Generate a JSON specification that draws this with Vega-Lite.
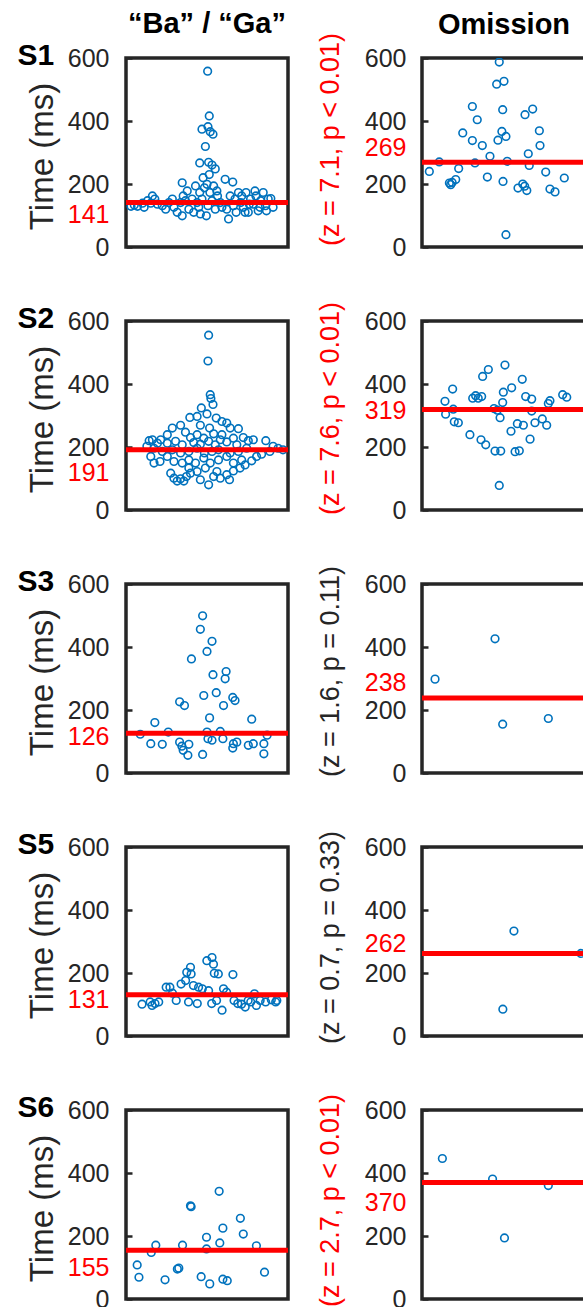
{
"$schema": "https://vega.github.io/schema/vega-lite/v6.json",
"usermeta": {"embedOptions": {"actions": false}},
"background": "white",
"padding": {"left": 15, "top": 8, "right": -3, "bottom": -5},
"config": {"view": {"stroke": null}, "font": "Liberation Sans", "axis": {"grid": false, "labelFont": "Liberation Sans", "titleFont": "Liberation Sans"}},
"datasets": {
"med": [
{"s":"S1","c":"B","m":141},{"s":"S1","c":"O","m":269},
{"s":"S2","c":"B","m":191},{"s":"S2","c":"O","m":319},
{"s":"S3","c":"B","m":126},{"s":"S3","c":"O","m":238},
{"s":"S5","c":"B","m":131},{"s":"S5","c":"O","m":262},
{"s":"S6","c":"B","m":155},{"s":"S6","c":"O","m":370}
],
"pts": [
{"s":"S1","c":"B","x":0.504,"t":558},{"s":"S1","c":"B","x":0.514,"t":416},{"s":"S1","c":"B","x":0.469,"t":374},{"s":"S1","c":"B","x":0.506,"t":382},{"s":"S1","c":"B","x":0.52,"t":366},{"s":"S1","c":"B","x":0.537,"t":358},{"s":"S1","c":"B","x":0.49,"t":319},{"s":"S1","c":"B","x":0.455,"t":267},{"s":"S1","c":"B","x":0.51,"t":269},{"s":"S1","c":"B","x":0.531,"t":260},{"s":"S1","c":"B","x":0.476,"t":220},{"s":"S1","c":"B","x":0.514,"t":230},{"s":"S1","c":"B","x":0.5,"t":199},{"s":"S1","c":"B","x":0.551,"t":248},
{"s":"S1","c":"B","x":0.031,"t":129},{"s":"S1","c":"B","x":0.051,"t":133},{"s":"S1","c":"B","x":0.071,"t":129},{"s":"S1","c":"B","x":0.102,"t":139},{"s":"S1","c":"B","x":0.112,"t":126},{"s":"S1","c":"B","x":0.133,"t":147},{"s":"S1","c":"B","x":0.153,"t":139},{"s":"S1","c":"B","x":0.163,"t":162},{"s":"S1","c":"B","x":0.178,"t":152},{"s":"S1","c":"B","x":0.194,"t":136},{"s":"S1","c":"B","x":0.224,"t":131},{"s":"S1","c":"B","x":0.245,"t":120},{"s":"S1","c":"B","x":0.265,"t":141},{"s":"S1","c":"B","x":0.286,"t":152},{"s":"S1","c":"B","x":0.296,"t":126},{"s":"S1","c":"B","x":0.316,"t":110},{"s":"S1","c":"B","x":0.337,"t":141},{"s":"S1","c":"B","x":0.347,"t":204},{"s":"S1","c":"B","x":0.353,"t":162},{"s":"S1","c":"B","x":0.347,"t":99},{"s":"S1","c":"B","x":0.367,"t":147},{"s":"S1","c":"B","x":0.378,"t":178},{"s":"S1","c":"B","x":0.388,"t":120},{"s":"S1","c":"B","x":0.408,"t":152},{"s":"S1","c":"B","x":0.418,"t":110},{"s":"S1","c":"B","x":0.429,"t":194},{"s":"S1","c":"B","x":0.439,"t":141},{"s":"S1","c":"B","x":0.449,"t":126},{"s":"S1","c":"B","x":0.455,"t":173},{"s":"S1","c":"B","x":0.459,"t":105},{"s":"S1","c":"B","x":0.469,"t":152},{"s":"S1","c":"B","x":0.484,"t":188},{"s":"S1","c":"B","x":0.496,"t":99},{"s":"S1","c":"B","x":0.506,"t":131},{"s":"S1","c":"B","x":0.518,"t":173},{"s":"S1","c":"B","x":0.531,"t":147},{"s":"S1","c":"B","x":0.541,"t":194},{"s":"S1","c":"B","x":0.551,"t":120},{"s":"S1","c":"B","x":0.561,"t":178},{"s":"S1","c":"B","x":0.565,"t":162},{"s":"S1","c":"B","x":0.582,"t":141},{"s":"S1","c":"B","x":0.592,"t":126},{"s":"S1","c":"B","x":0.612,"t":215},{"s":"S1","c":"B","x":0.622,"t":120},{"s":"S1","c":"B","x":0.633,"t":89},{"s":"S1","c":"B","x":0.643,"t":162},{"s":"S1","c":"B","x":0.659,"t":206},{"s":"S1","c":"B","x":0.663,"t":131},{"s":"S1","c":"B","x":0.673,"t":152},{"s":"S1","c":"B","x":0.68,"t":110},{"s":"S1","c":"B","x":0.694,"t":173},{"s":"S1","c":"B","x":0.708,"t":141},{"s":"S1","c":"B","x":0.714,"t":162},{"s":"S1","c":"B","x":0.724,"t":126},{"s":"S1","c":"B","x":0.735,"t":110},{"s":"S1","c":"B","x":0.741,"t":173},{"s":"S1","c":"B","x":0.755,"t":110},{"s":"S1","c":"B","x":0.761,"t":136},{"s":"S1","c":"B","x":0.769,"t":152},{"s":"S1","c":"B","x":0.786,"t":136},{"s":"S1","c":"B","x":0.796,"t":178},{"s":"S1","c":"B","x":0.802,"t":162},{"s":"S1","c":"B","x":0.816,"t":115},{"s":"S1","c":"B","x":0.827,"t":126},{"s":"S1","c":"B","x":0.831,"t":147},{"s":"S1","c":"B","x":0.847,"t":173},{"s":"S1","c":"B","x":0.861,"t":131},{"s":"S1","c":"B","x":0.867,"t":115},{"s":"S1","c":"B","x":0.878,"t":152},{"s":"S1","c":"B","x":0.894,"t":154},{"s":"S1","c":"B","x":0.908,"t":126},
{"s":"S1","c":"O","x":0.045,"t":240},{"s":"S1","c":"O","x":0.106,"t":270},{"s":"S1","c":"O","x":0.168,"t":203},{"s":"S1","c":"O","x":0.176,"t":198},{"s":"S1","c":"O","x":0.185,"t":205},{"s":"S1","c":"O","x":0.207,"t":214},{"s":"S1","c":"O","x":0.225,"t":249},{"s":"S1","c":"O","x":0.25,"t":362},{"s":"S1","c":"O","x":0.309,"t":446},{"s":"S1","c":"O","x":0.309,"t":338},{"s":"S1","c":"O","x":0.325,"t":267},{"s":"S1","c":"O","x":0.339,"t":404},{"s":"S1","c":"O","x":0.37,"t":322},{"s":"S1","c":"O","x":0.401,"t":222},{"s":"S1","c":"O","x":0.417,"t":288},{"s":"S1","c":"O","x":0.458,"t":517},{"s":"S1","c":"O","x":0.474,"t":587},{"s":"S1","c":"O","x":0.503,"t":526},{"s":"S1","c":"O","x":0.495,"t":436},{"s":"S1","c":"O","x":0.466,"t":339},{"s":"S1","c":"O","x":0.49,"t":367},{"s":"S1","c":"O","x":0.515,"t":351},{"s":"S1","c":"O","x":0.497,"t":208},{"s":"S1","c":"O","x":0.523,"t":272},{"s":"S1","c":"O","x":0.515,"t":39},{"s":"S1","c":"O","x":0.589,"t":187},{"s":"S1","c":"O","x":0.618,"t":200},{"s":"S1","c":"O","x":0.63,"t":193},{"s":"S1","c":"O","x":0.643,"t":179},{"s":"S1","c":"O","x":0.652,"t":296},{"s":"S1","c":"O","x":0.658,"t":259},{"s":"S1","c":"O","x":0.632,"t":420},{"s":"S1","c":"O","x":0.679,"t":438},{"s":"S1","c":"O","x":0.72,"t":369},{"s":"S1","c":"O","x":0.724,"t":322},{"s":"S1","c":"O","x":0.759,"t":238},{"s":"S1","c":"O","x":0.785,"t":184},{"s":"S1","c":"O","x":0.816,"t":175},{"s":"S1","c":"O","x":0.873,"t":219},
{"s":"S2","c":"B","x":0.51,"t":555},{"s":"S2","c":"B","x":0.506,"t":473},{"s":"S2","c":"B","x":0.52,"t":366},{"s":"S2","c":"B","x":0.524,"t":354},{"s":"S2","c":"B","x":0.537,"t":335},{"s":"S2","c":"B","x":0.465,"t":324},{"s":"S2","c":"B","x":0.5,"t":305},{"s":"S2","c":"B","x":0.394,"t":294},{"s":"S2","c":"B","x":0.439,"t":297},{"s":"S2","c":"B","x":0.557,"t":292},{"s":"S2","c":"B","x":0.592,"t":281},{"s":"S2","c":"B","x":0.622,"t":276},{"s":"S2","c":"B","x":0.337,"t":269},{"s":"S2","c":"B","x":0.459,"t":269},{"s":"S2","c":"B","x":0.286,"t":260},{"s":"S2","c":"B","x":0.516,"t":260},{"s":"S2","c":"B","x":0.643,"t":260},{"s":"S2","c":"B","x":0.255,"t":239},{"s":"S2","c":"B","x":0.367,"t":247},{"s":"S2","c":"B","x":0.439,"t":239},{"s":"S2","c":"B","x":0.541,"t":242},{"s":"S2","c":"B","x":0.592,"t":239},{"s":"S2","c":"B","x":0.694,"t":258},{"s":"S2","c":"B","x":0.398,"t":230},{"s":"S2","c":"B","x":0.48,"t":228},{"s":"S2","c":"B","x":0.582,"t":223},{"s":"S2","c":"B","x":0.663,"t":228},{"s":"S2","c":"B","x":0.724,"t":230},{"s":"S2","c":"B","x":0.143,"t":220},{"s":"S2","c":"B","x":0.163,"t":223},{"s":"S2","c":"B","x":0.194,"t":212},{"s":"S2","c":"B","x":0.214,"t":223},{"s":"S2","c":"B","x":0.255,"t":212},{"s":"S2","c":"B","x":0.306,"t":218},{"s":"S2","c":"B","x":0.347,"t":207},{"s":"S2","c":"B","x":0.418,"t":214},{"s":"S2","c":"B","x":0.459,"t":209},{"s":"S2","c":"B","x":0.51,"t":218},{"s":"S2","c":"B","x":0.551,"t":207},{"s":"S2","c":"B","x":0.622,"t":216},{"s":"S2","c":"B","x":0.684,"t":207},{"s":"S2","c":"B","x":0.755,"t":220},{"s":"S2","c":"B","x":0.786,"t":223},{"s":"S2","c":"B","x":0.863,"t":220},{"s":"S2","c":"B","x":0.908,"t":202},{"s":"S2","c":"B","x":0.939,"t":196},{"s":"S2","c":"B","x":0.969,"t":191},{"s":"S2","c":"B","x":0.129,"t":202},{"s":"S2","c":"B","x":0.173,"t":196},{"s":"S2","c":"B","x":0.224,"t":186},{"s":"S2","c":"B","x":0.286,"t":191},{"s":"S2","c":"B","x":0.337,"t":181},{"s":"S2","c":"B","x":0.388,"t":186},{"s":"S2","c":"B","x":0.439,"t":196},{"s":"S2","c":"B","x":0.484,"t":181},{"s":"S2","c":"B","x":0.531,"t":186},{"s":"S2","c":"B","x":0.571,"t":191},{"s":"S2","c":"B","x":0.643,"t":181},{"s":"S2","c":"B","x":0.694,"t":186},{"s":"S2","c":"B","x":0.745,"t":196},{"s":"S2","c":"B","x":0.806,"t":170},{"s":"S2","c":"B","x":0.837,"t":177},{"s":"S2","c":"B","x":0.888,"t":186},{"s":"S2","c":"B","x":0.153,"t":170},{"s":"S2","c":"B","x":0.173,"t":149},{"s":"S2","c":"B","x":0.21,"t":154},{"s":"S2","c":"B","x":0.255,"t":170},{"s":"S2","c":"B","x":0.296,"t":154},{"s":"S2","c":"B","x":0.347,"t":149},{"s":"S2","c":"B","x":0.388,"t":159},{"s":"S2","c":"B","x":0.429,"t":149},{"s":"S2","c":"B","x":0.48,"t":165},{"s":"S2","c":"B","x":0.52,"t":149},{"s":"S2","c":"B","x":0.571,"t":159},{"s":"S2","c":"B","x":0.622,"t":170},{"s":"S2","c":"B","x":0.663,"t":149},{"s":"S2","c":"B","x":0.714,"t":159},{"s":"S2","c":"B","x":0.776,"t":156},{"s":"S2","c":"B","x":0.276,"t":117},{"s":"S2","c":"B","x":0.296,"t":101},{"s":"S2","c":"B","x":0.316,"t":92},{"s":"S2","c":"B","x":0.337,"t":99},{"s":"S2","c":"B","x":0.357,"t":92},{"s":"S2","c":"B","x":0.373,"t":106},{"s":"S2","c":"B","x":0.398,"t":117},{"s":"S2","c":"B","x":0.439,"t":122},{"s":"S2","c":"B","x":0.459,"t":96},{"s":"S2","c":"B","x":0.51,"t":80},{"s":"S2","c":"B","x":0.541,"t":106},{"s":"S2","c":"B","x":0.582,"t":101},{"s":"S2","c":"B","x":0.622,"t":112},{"s":"S2","c":"B","x":0.639,"t":96},{"s":"S2","c":"B","x":0.663,"t":124},{"s":"S2","c":"B","x":0.704,"t":133},{"s":"S2","c":"B","x":0.735,"t":143},{"s":"S2","c":"B","x":0.388,"t":133},{"s":"S2","c":"B","x":0.49,"t":133},{"s":"S2","c":"B","x":0.561,"t":122},
{"s":"S2","c":"O","x":0.141,"t":345},{"s":"S2","c":"O","x":0.188,"t":384},{"s":"S2","c":"O","x":0.145,"t":304},{"s":"S2","c":"O","x":0.192,"t":320},{"s":"S2","c":"O","x":0.198,"t":280},{"s":"S2","c":"O","x":0.223,"t":277},{"s":"S2","c":"O","x":0.294,"t":239},{"s":"S2","c":"O","x":0.311,"t":355},{"s":"S2","c":"O","x":0.329,"t":363},{"s":"S2","c":"O","x":0.345,"t":355},{"s":"S2","c":"O","x":0.366,"t":360},{"s":"S2","c":"O","x":0.372,"t":424},{"s":"S2","c":"O","x":0.407,"t":446},{"s":"S2","c":"O","x":0.362,"t":223},{"s":"S2","c":"O","x":0.391,"t":207},{"s":"S2","c":"O","x":0.448,"t":187},{"s":"S2","c":"O","x":0.483,"t":187},{"s":"S2","c":"O","x":0.442,"t":322},{"s":"S2","c":"O","x":0.479,"t":293},{"s":"S2","c":"O","x":0.495,"t":341},{"s":"S2","c":"O","x":0.499,"t":374},{"s":"S2","c":"O","x":0.509,"t":460},{"s":"S2","c":"O","x":0.462,"t":317},{"s":"S2","c":"O","x":0.474,"t":78},{"s":"S2","c":"O","x":0.55,"t":388},{"s":"S2","c":"O","x":0.546,"t":250},{"s":"S2","c":"O","x":0.585,"t":274},{"s":"S2","c":"O","x":0.571,"t":185},{"s":"S2","c":"O","x":0.597,"t":188},{"s":"S2","c":"O","x":0.615,"t":415},{"s":"S2","c":"O","x":0.622,"t":269},{"s":"S2","c":"O","x":0.636,"t":360},{"s":"S2","c":"O","x":0.663,"t":225},{"s":"S2","c":"O","x":0.673,"t":352},{"s":"S2","c":"O","x":0.673,"t":314},{"s":"S2","c":"O","x":0.693,"t":277},{"s":"S2","c":"O","x":0.738,"t":289},{"s":"S2","c":"O","x":0.765,"t":269},{"s":"S2","c":"O","x":0.775,"t":338},{"s":"S2","c":"O","x":0.785,"t":347},{"s":"S2","c":"O","x":0.863,"t":366},{"s":"S2","c":"O","x":0.888,"t":358},
{"s":"S3","c":"B","x":0.473,"t":499},{"s":"S3","c":"B","x":0.459,"t":456},{"s":"S3","c":"B","x":0.531,"t":418},{"s":"S3","c":"B","x":0.5,"t":386},{"s":"S3","c":"B","x":0.404,"t":362},{"s":"S3","c":"B","x":0.537,"t":312},{"s":"S3","c":"B","x":0.618,"t":322},{"s":"S3","c":"B","x":0.612,"t":299},{"s":"S3","c":"B","x":0.557,"t":255},{"s":"S3","c":"B","x":0.48,"t":246},{"s":"S3","c":"B","x":0.659,"t":240},{"s":"S3","c":"B","x":0.673,"t":230},{"s":"S3","c":"B","x":0.331,"t":226},{"s":"S3","c":"B","x":0.361,"t":214},{"s":"S3","c":"B","x":0.602,"t":214},{"s":"S3","c":"B","x":0.516,"t":175},{"s":"S3","c":"B","x":0.776,"t":171},{"s":"S3","c":"B","x":0.178,"t":160},{"s":"S3","c":"B","x":0.261,"t":130},{"s":"S3","c":"B","x":0.088,"t":123},{"s":"S3","c":"B","x":0.153,"t":93},{"s":"S3","c":"B","x":0.224,"t":91},{"s":"S3","c":"B","x":0.331,"t":98},{"s":"S3","c":"B","x":0.353,"t":72},{"s":"S3","c":"B","x":0.382,"t":56},{"s":"S3","c":"B","x":0.388,"t":91},{"s":"S3","c":"B","x":0.345,"t":85},{"s":"S3","c":"B","x":0.473,"t":59},{"s":"S3","c":"B","x":0.5,"t":130},{"s":"S3","c":"B","x":0.506,"t":109},{"s":"S3","c":"B","x":0.531,"t":104},{"s":"S3","c":"B","x":0.582,"t":132},{"s":"S3","c":"B","x":0.598,"t":109},{"s":"S3","c":"B","x":0.663,"t":93},{"s":"S3","c":"B","x":0.684,"t":98},{"s":"S3","c":"B","x":0.659,"t":79},{"s":"S3","c":"B","x":0.755,"t":88},{"s":"S3","c":"B","x":0.786,"t":93},{"s":"S3","c":"B","x":0.851,"t":93},{"s":"S3","c":"B","x":0.851,"t":61},{"s":"S3","c":"B","x":0.871,"t":120},
{"s":"S3","c":"O","x":0.08,"t":298},{"s":"S3","c":"O","x":0.448,"t":426},{"s":"S3","c":"O","x":0.495,"t":155},{"s":"S3","c":"O","x":0.775,"t":173},
{"s":"S5","c":"B","x":0.099,"t":101},{"s":"S5","c":"B","x":0.149,"t":108},{"s":"S5","c":"B","x":0.161,"t":97},{"s":"S5","c":"B","x":0.179,"t":103},{"s":"S5","c":"B","x":0.202,"t":108},{"s":"S5","c":"B","x":0.248,"t":155},{"s":"S5","c":"B","x":0.271,"t":155},{"s":"S5","c":"B","x":0.287,"t":136},{"s":"S5","c":"B","x":0.31,"t":113},{"s":"S5","c":"B","x":0.34,"t":165},{"s":"S5","c":"B","x":0.368,"t":176},{"s":"S5","c":"B","x":0.375,"t":202},{"s":"S5","c":"B","x":0.398,"t":218},{"s":"S5","c":"B","x":0.402,"t":197},{"s":"S5","c":"B","x":0.416,"t":160},{"s":"S5","c":"B","x":0.386,"t":108},{"s":"S5","c":"B","x":0.448,"t":155},{"s":"S5","c":"B","x":0.471,"t":150},{"s":"S5","c":"B","x":0.499,"t":239},{"s":"S5","c":"B","x":0.531,"t":249},{"s":"S5","c":"B","x":0.51,"t":144},{"s":"S5","c":"B","x":0.44,"t":103},{"s":"S5","c":"B","x":0.54,"t":228},{"s":"S5","c":"B","x":0.545,"t":199},{"s":"S5","c":"B","x":0.57,"t":197},{"s":"S5","c":"B","x":0.559,"t":113},{"s":"S5","c":"B","x":0.593,"t":82},{"s":"S5","c":"B","x":0.602,"t":150},{"s":"S5","c":"B","x":0.621,"t":139},{"s":"S5","c":"B","x":0.66,"t":195},{"s":"S5","c":"B","x":0.667,"t":113},{"s":"S5","c":"B","x":0.69,"t":103},{"s":"S5","c":"B","x":0.713,"t":101},{"s":"S5","c":"B","x":0.736,"t":92},{"s":"S5","c":"B","x":0.754,"t":113},{"s":"S5","c":"B","x":0.77,"t":108},{"s":"S5","c":"B","x":0.793,"t":134},{"s":"S5","c":"B","x":0.805,"t":97},{"s":"S5","c":"B","x":0.828,"t":113},{"s":"S5","c":"B","x":0.862,"t":108},{"s":"S5","c":"B","x":0.897,"t":115},{"s":"S5","c":"B","x":0.924,"t":108},{"s":"S5","c":"B","x":0.931,"t":113},{"s":"S5","c":"B","x":0.529,"t":103},
{"s":"S5","c":"O","x":0.564,"t":333},{"s":"S5","c":"O","x":0.496,"t":85},{"s":"S5","c":"O","x":0.975,"t":262},
{"s":"S6","c":"B","x":0.069,"t":108},{"s":"S6","c":"B","x":0.08,"t":69},{"s":"S6","c":"B","x":0.156,"t":148},{"s":"S6","c":"B","x":0.184,"t":171},{"s":"S6","c":"B","x":0.241,"t":61},{"s":"S6","c":"B","x":0.317,"t":95},{"s":"S6","c":"B","x":0.326,"t":98},{"s":"S6","c":"B","x":0.349,"t":171},{"s":"S6","c":"B","x":0.398,"t":296},{"s":"S6","c":"B","x":0.402,"t":293},{"s":"S6","c":"B","x":0.464,"t":71},{"s":"S6","c":"B","x":0.497,"t":196},{"s":"S6","c":"B","x":0.497,"t":159},{"s":"S6","c":"B","x":0.517,"t":48},{"s":"S6","c":"B","x":0.575,"t":342},{"s":"S6","c":"B","x":0.579,"t":178},{"s":"S6","c":"B","x":0.598,"t":225},{"s":"S6","c":"B","x":0.598,"t":63},{"s":"S6","c":"B","x":0.625,"t":58},{"s":"S6","c":"B","x":0.706,"t":256},{"s":"S6","c":"B","x":0.724,"t":206},{"s":"S6","c":"B","x":0.805,"t":169},{"s":"S6","c":"B","x":0.855,"t":85},
{"s":"S6","c":"O","x":0.125,"t":446},{"s":"S6","c":"O","x":0.433,"t":381},{"s":"S6","c":"O","x":0.775,"t":360},{"s":"S6","c":"O","x":0.506,"t":194}
]
},
"columns": 2,
"spacing": {"row": 74, "column": 134},
"bounds": "flush",
"concat": [
 {"width": 162, "height": 189, "view": {"stroke": "#262626", "strokeWidth": 3.5},
  "title": {"text": "“Ba” / “Ga”", "fontSize": 29, "fontWeight": "bold", "color": "#000000", "anchor": "middle", "frame": "group", "baseline": "alphabetic", "offset": -22},
  "layer": [
   {"data": {"name": "pts"}, "transform": [{"filter": "datum.s=='S1' && datum.c=='B'"}],
    "mark": {"type": "point", "filled": false, "stroke": "#0072BD", "strokeWidth": 1.6, "size": 58, "opacity": 1},
    "encoding": {
     "x": {"field": "x", "type": "quantitative", "scale": {"domain": [0, 1]}, "axis": {"orient": "top", "labels": false, "ticks": false, "domain": false, "title": "S1", "titleAngle": 0, "titleX": -109, "titleY": 6, "titleAlign": "left", "titleBaseline": "alphabetic", "titleFontSize": 30, "titleFontWeight": "bold", "titleColor": "#000000"}},
     "y": {"field": "t", "type": "quantitative", "scale": {"domain": [0, 600], "nice": false}, "axis": {"orient": "left", "values": [0, 200, 400, 600, 141], "domain": false, "ticks": true, "tickSize": -6, "tickWidth": 2.5, "tickColor": "#262626", "tickOpacity": {"condition": {"test": "datum.value == 141", "value": 0}, "value": 1}, "labelOverlap": false, "labelFontSize": 25, "labelPadding": 23, "labelColor": {"condition": {"test": "datum.value == 141", "value": "#FF0000"}, "value": "#262626"}, "labelOffset": {"condition": {"test": "datum.value == 141", "value": 12}, "value": 0}, "title": "Time (ms)", "titleFontSize": 33, "titleFontWeight": "normal", "titleColor": "#262626", "titleX": -84, "titleY": 98, "titleAngle": -90, "titleBaseline": "middle", "titleAlign": "center"}}
    }},
   {"data": {"name": "med"}, "transform": [{"filter": "datum.s=='S1' && datum.c=='B'"}],
    "mark": {"type": "rule", "color": "#FF0000", "strokeWidth": 5},
    "encoding": {"y": {"field": "m", "type": "quantitative", "scale": {"domain": [0, 600], "nice": false}, "axis": {"orient": "left", "values": [0, 200, 400, 600, 141], "domain": false, "ticks": true, "tickSize": -6, "tickWidth": 2.5, "tickColor": "#262626", "tickOpacity": {"condition": {"test": "datum.value == 141", "value": 0}, "value": 1}, "labelOverlap": false, "labelFontSize": 25, "labelPadding": 23, "labelColor": {"condition": {"test": "datum.value == 141", "value": "#FF0000"}, "value": "#262626"}, "labelOffset": {"condition": {"test": "datum.value == 141", "value": 12}, "value": 0}, "title": "Time (ms)", "titleFontSize": 33, "titleFontWeight": "normal", "titleColor": "#262626", "titleX": -84, "titleY": 98, "titleAngle": -90, "titleBaseline": "middle", "titleAlign": "center"}}}}
  ]
 },
 {"width": 163, "height": 189, "view": {"stroke": "#262626", "strokeWidth": 3.5, "strokeDash": [163, 189, 352]},
  "layer": [
   {"data": {"name": "pts"}, "transform": [{"filter": "datum.s=='S1' && datum.c=='O'"}],
    "mark": {"type": "point", "filled": false, "stroke": "#0072BD", "strokeWidth": 1.6, "size": 58, "opacity": 1, "clip": true},
    "encoding": {
     "x": {"field": "x", "type": "quantitative", "scale": {"domain": [0, 1]}, "axis": {"orient": "top", "labels": false, "ticks": false, "domain": false, "title": "Omission", "titleFontSize": 29, "titleFontWeight": "bold", "titleColor": "#000000", "titleY": -25, "titleBaseline": "alphabetic"}},
     "y": {"field": "t", "type": "quantitative", "scale": {"domain": [0, 600], "nice": false}, "axis": {"orient": "left", "values": [0, 200, 400, 600, 269], "domain": false, "ticks": true, "tickSize": -6, "tickWidth": 2.5, "tickColor": "#262626", "tickOpacity": {"condition": {"test": "datum.value == 269", "value": 0}, "value": 1}, "labelOverlap": false, "labelFontSize": 25, "labelPadding": 22, "labelColor": {"condition": {"test": "datum.value == 269", "value": "#FF0000"}, "value": "#262626"}, "labelOffset": {"condition": {"test": "datum.value == 269", "value": -15}, "value": 0}, "title": "(z = 7.1, p < 0.01)", "titleFontSize": 27, "titleFontWeight": "normal", "titleColor": "#FF0000", "titleX": -92, "titleY": 81, "titleAngle": -90, "titleBaseline": "middle", "titleAlign": "center"}}
    }},
   {"data": {"name": "med"}, "transform": [{"filter": "datum.s=='S1' && datum.c=='O'"}],
    "mark": {"type": "rule", "color": "#FF0000", "strokeWidth": 5},
    "encoding": {"y": {"field": "m", "type": "quantitative", "scale": {"domain": [0, 600], "nice": false}, "axis": {"orient": "left", "values": [0, 200, 400, 600, 269], "domain": false, "ticks": true, "tickSize": -6, "tickWidth": 2.5, "tickColor": "#262626", "tickOpacity": {"condition": {"test": "datum.value == 269", "value": 0}, "value": 1}, "labelOverlap": false, "labelFontSize": 25, "labelPadding": 22, "labelColor": {"condition": {"test": "datum.value == 269", "value": "#FF0000"}, "value": "#262626"}, "labelOffset": {"condition": {"test": "datum.value == 269", "value": -15}, "value": 0}, "title": "(z = 7.1, p < 0.01)", "titleFontSize": 27, "titleFontWeight": "normal", "titleColor": "#FF0000", "titleX": -92, "titleY": 81, "titleAngle": -90, "titleBaseline": "middle", "titleAlign": "center"}}}}
  ]
 },
 {"width": 162, "height": 189, "view": {"stroke": "#262626", "strokeWidth": 3.5},
  "layer": [
   {"data": {"name": "pts"}, "transform": [{"filter": "datum.s=='S2' && datum.c=='B'"}],
    "mark": {"type": "point", "filled": false, "stroke": "#0072BD", "strokeWidth": 1.6, "size": 58, "opacity": 1},
    "encoding": {
     "x": {"field": "x", "type": "quantitative", "scale": {"domain": [0, 1]}, "axis": {"orient": "top", "labels": false, "ticks": false, "domain": false, "title": "S2", "titleAngle": 0, "titleX": -109, "titleY": 6, "titleAlign": "left", "titleBaseline": "alphabetic", "titleFontSize": 30, "titleFontWeight": "bold", "titleColor": "#000000"}},
     "y": {"field": "t", "type": "quantitative", "scale": {"domain": [0, 600], "nice": false}, "axis": {"orient": "left", "values": [0, 200, 400, 600, 191], "domain": false, "ticks": true, "tickSize": -6, "tickWidth": 2.5, "tickColor": "#262626", "tickOpacity": {"condition": {"test": "datum.value == 191", "value": 0}, "value": 1}, "labelOverlap": false, "labelFontSize": 25, "labelPadding": 23, "labelColor": {"condition": {"test": "datum.value == 191", "value": "#FF0000"}, "value": "#262626"}, "labelOffset": {"condition": {"test": "datum.value == 191", "value": 23}, "value": 0}, "title": "Time (ms)", "titleFontSize": 33, "titleFontWeight": "normal", "titleColor": "#262626", "titleX": -84, "titleY": 98, "titleAngle": -90, "titleBaseline": "middle", "titleAlign": "center"}}
    }},
   {"data": {"name": "med"}, "transform": [{"filter": "datum.s=='S2' && datum.c=='B'"}],
    "mark": {"type": "rule", "color": "#FF0000", "strokeWidth": 5},
    "encoding": {"y": {"field": "m", "type": "quantitative", "scale": {"domain": [0, 600], "nice": false}, "axis": {"orient": "left", "values": [0, 200, 400, 600, 191], "domain": false, "ticks": true, "tickSize": -6, "tickWidth": 2.5, "tickColor": "#262626", "tickOpacity": {"condition": {"test": "datum.value == 191", "value": 0}, "value": 1}, "labelOverlap": false, "labelFontSize": 25, "labelPadding": 23, "labelColor": {"condition": {"test": "datum.value == 191", "value": "#FF0000"}, "value": "#262626"}, "labelOffset": {"condition": {"test": "datum.value == 191", "value": 23}, "value": 0}, "title": "Time (ms)", "titleFontSize": 33, "titleFontWeight": "normal", "titleColor": "#262626", "titleX": -84, "titleY": 98, "titleAngle": -90, "titleBaseline": "middle", "titleAlign": "center"}}}}
  ]
 },
 {"width": 163, "height": 189, "view": {"stroke": "#262626", "strokeWidth": 3.5, "strokeDash": [163, 189, 352]},
  "layer": [
   {"data": {"name": "pts"}, "transform": [{"filter": "datum.s=='S2' && datum.c=='O'"}],
    "mark": {"type": "point", "filled": false, "stroke": "#0072BD", "strokeWidth": 1.6, "size": 58, "opacity": 1, "clip": true},
    "encoding": {
     "x": {"field": "x", "type": "quantitative", "scale": {"domain": [0, 1]}, "axis": null},
     "y": {"field": "t", "type": "quantitative", "scale": {"domain": [0, 600], "nice": false}, "axis": {"orient": "left", "values": [0, 200, 400, 600, 319], "domain": false, "ticks": true, "tickSize": -6, "tickWidth": 2.5, "tickColor": "#262626", "tickOpacity": {"condition": {"test": "datum.value == 319", "value": 0}, "value": 1}, "labelOverlap": false, "labelFontSize": 25, "labelPadding": 22, "labelColor": {"condition": {"test": "datum.value == 319", "value": "#FF0000"}, "value": "#262626"}, "labelOffset": {"condition": {"test": "datum.value == 319", "value": 1}, "value": 0}, "title": "(z = 7.6, p < 0.01)", "titleFontSize": 27, "titleFontWeight": "normal", "titleColor": "#FF0000", "titleX": -92, "titleY": 87, "titleAngle": -90, "titleBaseline": "middle", "titleAlign": "center"}}
    }},
   {"data": {"name": "med"}, "transform": [{"filter": "datum.s=='S2' && datum.c=='O'"}],
    "mark": {"type": "rule", "color": "#FF0000", "strokeWidth": 5},
    "encoding": {"y": {"field": "m", "type": "quantitative", "scale": {"domain": [0, 600], "nice": false}, "axis": {"orient": "left", "values": [0, 200, 400, 600, 319], "domain": false, "ticks": true, "tickSize": -6, "tickWidth": 2.5, "tickColor": "#262626", "tickOpacity": {"condition": {"test": "datum.value == 319", "value": 0}, "value": 1}, "labelOverlap": false, "labelFontSize": 25, "labelPadding": 22, "labelColor": {"condition": {"test": "datum.value == 319", "value": "#FF0000"}, "value": "#262626"}, "labelOffset": {"condition": {"test": "datum.value == 319", "value": 1}, "value": 0}, "title": "(z = 7.6, p < 0.01)", "titleFontSize": 27, "titleFontWeight": "normal", "titleColor": "#FF0000", "titleX": -92, "titleY": 87, "titleAngle": -90, "titleBaseline": "middle", "titleAlign": "center"}}}}
  ]
 },
 {"width": 162, "height": 189, "view": {"stroke": "#262626", "strokeWidth": 3.5},
  "layer": [
   {"data": {"name": "pts"}, "transform": [{"filter": "datum.s=='S3' && datum.c=='B'"}],
    "mark": {"type": "point", "filled": false, "stroke": "#0072BD", "strokeWidth": 1.6, "size": 58, "opacity": 1},
    "encoding": {
     "x": {"field": "x", "type": "quantitative", "scale": {"domain": [0, 1]}, "axis": {"orient": "top", "labels": false, "ticks": false, "domain": false, "title": "S3", "titleAngle": 0, "titleX": -109, "titleY": 6, "titleAlign": "left", "titleBaseline": "alphabetic", "titleFontSize": 30, "titleFontWeight": "bold", "titleColor": "#000000"}},
     "y": {"field": "t", "type": "quantitative", "scale": {"domain": [0, 600], "nice": false}, "axis": {"orient": "left", "values": [0, 200, 400, 600, 126], "domain": false, "ticks": true, "tickSize": -6, "tickWidth": 2.5, "tickColor": "#262626", "tickOpacity": {"condition": {"test": "datum.value == 126", "value": 0}, "value": 1}, "labelOverlap": false, "labelFontSize": 25, "labelPadding": 23, "labelColor": {"condition": {"test": "datum.value == 126", "value": "#FF0000"}, "value": "#262626"}, "labelOffset": {"condition": {"test": "datum.value == 126", "value": 3}, "value": 0}, "title": "Time (ms)", "titleFontSize": 33, "titleFontWeight": "normal", "titleColor": "#262626", "titleX": -84, "titleY": 98, "titleAngle": -90, "titleBaseline": "middle", "titleAlign": "center"}}
    }},
   {"data": {"name": "med"}, "transform": [{"filter": "datum.s=='S3' && datum.c=='B'"}],
    "mark": {"type": "rule", "color": "#FF0000", "strokeWidth": 5},
    "encoding": {"y": {"field": "m", "type": "quantitative", "scale": {"domain": [0, 600], "nice": false}, "axis": {"orient": "left", "values": [0, 200, 400, 600, 126], "domain": false, "ticks": true, "tickSize": -6, "tickWidth": 2.5, "tickColor": "#262626", "tickOpacity": {"condition": {"test": "datum.value == 126", "value": 0}, "value": 1}, "labelOverlap": false, "labelFontSize": 25, "labelPadding": 23, "labelColor": {"condition": {"test": "datum.value == 126", "value": "#FF0000"}, "value": "#262626"}, "labelOffset": {"condition": {"test": "datum.value == 126", "value": 3}, "value": 0}, "title": "Time (ms)", "titleFontSize": 33, "titleFontWeight": "normal", "titleColor": "#262626", "titleX": -84, "titleY": 98, "titleAngle": -90, "titleBaseline": "middle", "titleAlign": "center"}}}}
  ]
 },
 {"width": 163, "height": 189, "view": {"stroke": "#262626", "strokeWidth": 3.5, "strokeDash": [163, 189, 352]},
  "layer": [
   {"data": {"name": "pts"}, "transform": [{"filter": "datum.s=='S3' && datum.c=='O'"}],
    "mark": {"type": "point", "filled": false, "stroke": "#0072BD", "strokeWidth": 1.6, "size": 58, "opacity": 1, "clip": true},
    "encoding": {
     "x": {"field": "x", "type": "quantitative", "scale": {"domain": [0, 1]}, "axis": null},
     "y": {"field": "t", "type": "quantitative", "scale": {"domain": [0, 600], "nice": false}, "axis": {"orient": "left", "values": [0, 200, 400, 600, 238], "domain": false, "ticks": true, "tickSize": -6, "tickWidth": 2.5, "tickColor": "#262626", "tickOpacity": {"condition": {"test": "datum.value == 238", "value": 0}, "value": 1}, "labelOverlap": false, "labelFontSize": 25, "labelPadding": 22, "labelColor": {"condition": {"test": "datum.value == 238", "value": "#FF0000"}, "value": "#262626"}, "labelOffset": {"condition": {"test": "datum.value == 238", "value": -16}, "value": 0}, "title": "(z = 1.6, p = 0.11)", "titleFontSize": 27, "titleFontWeight": "normal", "titleColor": "#262626", "titleX": -92, "titleY": 87, "titleAngle": -90, "titleBaseline": "middle", "titleAlign": "center"}}
    }},
   {"data": {"name": "med"}, "transform": [{"filter": "datum.s=='S3' && datum.c=='O'"}],
    "mark": {"type": "rule", "color": "#FF0000", "strokeWidth": 5},
    "encoding": {"y": {"field": "m", "type": "quantitative", "scale": {"domain": [0, 600], "nice": false}, "axis": {"orient": "left", "values": [0, 200, 400, 600, 238], "domain": false, "ticks": true, "tickSize": -6, "tickWidth": 2.5, "tickColor": "#262626", "tickOpacity": {"condition": {"test": "datum.value == 238", "value": 0}, "value": 1}, "labelOverlap": false, "labelFontSize": 25, "labelPadding": 22, "labelColor": {"condition": {"test": "datum.value == 238", "value": "#FF0000"}, "value": "#262626"}, "labelOffset": {"condition": {"test": "datum.value == 238", "value": -16}, "value": 0}, "title": "(z = 1.6, p = 0.11)", "titleFontSize": 27, "titleFontWeight": "normal", "titleColor": "#262626", "titleX": -92, "titleY": 87, "titleAngle": -90, "titleBaseline": "middle", "titleAlign": "center"}}}}
  ]
 },
 {"width": 162, "height": 189, "view": {"stroke": "#262626", "strokeWidth": 3.5},
  "layer": [
   {"data": {"name": "pts"}, "transform": [{"filter": "datum.s=='S5' && datum.c=='B'"}],
    "mark": {"type": "point", "filled": false, "stroke": "#0072BD", "strokeWidth": 1.6, "size": 58, "opacity": 1},
    "encoding": {
     "x": {"field": "x", "type": "quantitative", "scale": {"domain": [0, 1]}, "axis": {"orient": "top", "labels": false, "ticks": false, "domain": false, "title": "S5", "titleAngle": 0, "titleX": -109, "titleY": 6, "titleAlign": "left", "titleBaseline": "alphabetic", "titleFontSize": 30, "titleFontWeight": "bold", "titleColor": "#000000"}},
     "y": {"field": "t", "type": "quantitative", "scale": {"domain": [0, 600], "nice": false}, "axis": {"orient": "left", "values": [0, 200, 400, 600, 131], "domain": false, "ticks": true, "tickSize": -6, "tickWidth": 2.5, "tickColor": "#262626", "tickOpacity": {"condition": {"test": "datum.value == 131", "value": 0}, "value": 1}, "labelOverlap": false, "labelFontSize": 25, "labelPadding": 23, "labelColor": {"condition": {"test": "datum.value == 131", "value": "#FF0000"}, "value": "#262626"}, "labelOffset": {"condition": {"test": "datum.value == 131", "value": 5}, "value": 0}, "title": "Time (ms)", "titleFontSize": 33, "titleFontWeight": "normal", "titleColor": "#262626", "titleX": -84, "titleY": 98, "titleAngle": -90, "titleBaseline": "middle", "titleAlign": "center"}}
    }},
   {"data": {"name": "med"}, "transform": [{"filter": "datum.s=='S5' && datum.c=='B'"}],
    "mark": {"type": "rule", "color": "#FF0000", "strokeWidth": 5},
    "encoding": {"y": {"field": "m", "type": "quantitative", "scale": {"domain": [0, 600], "nice": false}, "axis": {"orient": "left", "values": [0, 200, 400, 600, 131], "domain": false, "ticks": true, "tickSize": -6, "tickWidth": 2.5, "tickColor": "#262626", "tickOpacity": {"condition": {"test": "datum.value == 131", "value": 0}, "value": 1}, "labelOverlap": false, "labelFontSize": 25, "labelPadding": 23, "labelColor": {"condition": {"test": "datum.value == 131", "value": "#FF0000"}, "value": "#262626"}, "labelOffset": {"condition": {"test": "datum.value == 131", "value": 5}, "value": 0}, "title": "Time (ms)", "titleFontSize": 33, "titleFontWeight": "normal", "titleColor": "#262626", "titleX": -84, "titleY": 98, "titleAngle": -90, "titleBaseline": "middle", "titleAlign": "center"}}}}
  ]
 },
 {"width": 163, "height": 189, "view": {"stroke": "#262626", "strokeWidth": 3.5, "strokeDash": [163, 189, 352]},
  "layer": [
   {"data": {"name": "pts"}, "transform": [{"filter": "datum.s=='S5' && datum.c=='O'"}],
    "mark": {"type": "point", "filled": false, "stroke": "#0072BD", "strokeWidth": 1.6, "size": 58, "opacity": 1, "clip": true},
    "encoding": {
     "x": {"field": "x", "type": "quantitative", "scale": {"domain": [0, 1]}, "axis": null},
     "y": {"field": "t", "type": "quantitative", "scale": {"domain": [0, 600], "nice": false}, "axis": {"orient": "left", "values": [0, 200, 400, 600, 262], "domain": false, "ticks": true, "tickSize": -6, "tickWidth": 2.5, "tickColor": "#262626", "tickOpacity": {"condition": {"test": "datum.value == 262", "value": 0}, "value": 1}, "labelOverlap": false, "labelFontSize": 25, "labelPadding": 22, "labelColor": {"condition": {"test": "datum.value == 262", "value": "#FF0000"}, "value": "#262626"}, "labelOffset": {"condition": {"test": "datum.value == 262", "value": -10}, "value": 0}, "title": "(z = 0.7, p = 0.33)", "titleFontSize": 27, "titleFontWeight": "normal", "titleColor": "#262626", "titleX": -92, "titleY": 90, "titleAngle": -90, "titleBaseline": "middle", "titleAlign": "center"}}
    }},
   {"data": {"name": "med"}, "transform": [{"filter": "datum.s=='S5' && datum.c=='O'"}],
    "mark": {"type": "rule", "color": "#FF0000", "strokeWidth": 5},
    "encoding": {"y": {"field": "m", "type": "quantitative", "scale": {"domain": [0, 600], "nice": false}, "axis": {"orient": "left", "values": [0, 200, 400, 600, 262], "domain": false, "ticks": true, "tickSize": -6, "tickWidth": 2.5, "tickColor": "#262626", "tickOpacity": {"condition": {"test": "datum.value == 262", "value": 0}, "value": 1}, "labelOverlap": false, "labelFontSize": 25, "labelPadding": 22, "labelColor": {"condition": {"test": "datum.value == 262", "value": "#FF0000"}, "value": "#262626"}, "labelOffset": {"condition": {"test": "datum.value == 262", "value": -10}, "value": 0}, "title": "(z = 0.7, p = 0.33)", "titleFontSize": 27, "titleFontWeight": "normal", "titleColor": "#262626", "titleX": -92, "titleY": 90, "titleAngle": -90, "titleBaseline": "middle", "titleAlign": "center"}}}}
  ]
 },
 {"width": 162, "height": 189, "view": {"stroke": "#262626", "strokeWidth": 3.5},
  "layer": [
   {"data": {"name": "pts"}, "transform": [{"filter": "datum.s=='S6' && datum.c=='B'"}],
    "mark": {"type": "point", "filled": false, "stroke": "#0072BD", "strokeWidth": 1.6, "size": 58, "opacity": 1},
    "encoding": {
     "x": {"field": "x", "type": "quantitative", "scale": {"domain": [0, 1]}, "axis": {"orient": "top", "labels": false, "ticks": false, "domain": false, "title": "S6", "titleAngle": 0, "titleX": -109, "titleY": 6, "titleAlign": "left", "titleBaseline": "alphabetic", "titleFontSize": 30, "titleFontWeight": "bold", "titleColor": "#000000"}},
     "y": {"field": "t", "type": "quantitative", "scale": {"domain": [0, 600], "nice": false}, "axis": {"orient": "left", "values": [0, 200, 400, 600, 155], "domain": false, "ticks": true, "tickSize": -6, "tickWidth": 2.5, "tickColor": "#262626", "tickOpacity": {"condition": {"test": "datum.value == 155", "value": 0}, "value": 1}, "labelOverlap": false, "labelFontSize": 25, "labelPadding": 23, "labelColor": {"condition": {"test": "datum.value == 155", "value": "#FF0000"}, "value": "#262626"}, "labelOffset": {"condition": {"test": "datum.value == 155", "value": 17}, "value": 0}, "title": "Time (ms)", "titleFontSize": 33, "titleFontWeight": "normal", "titleColor": "#262626", "titleX": -84, "titleY": 98, "titleAngle": -90, "titleBaseline": "middle", "titleAlign": "center"}}
    }},
   {"data": {"name": "med"}, "transform": [{"filter": "datum.s=='S6' && datum.c=='B'"}],
    "mark": {"type": "rule", "color": "#FF0000", "strokeWidth": 5},
    "encoding": {"y": {"field": "m", "type": "quantitative", "scale": {"domain": [0, 600], "nice": false}, "axis": {"orient": "left", "values": [0, 200, 400, 600, 155], "domain": false, "ticks": true, "tickSize": -6, "tickWidth": 2.5, "tickColor": "#262626", "tickOpacity": {"condition": {"test": "datum.value == 155", "value": 0}, "value": 1}, "labelOverlap": false, "labelFontSize": 25, "labelPadding": 23, "labelColor": {"condition": {"test": "datum.value == 155", "value": "#FF0000"}, "value": "#262626"}, "labelOffset": {"condition": {"test": "datum.value == 155", "value": 17}, "value": 0}, "title": "Time (ms)", "titleFontSize": 33, "titleFontWeight": "normal", "titleColor": "#262626", "titleX": -84, "titleY": 98, "titleAngle": -90, "titleBaseline": "middle", "titleAlign": "center"}}}}
  ]
 },
 {"width": 163, "height": 189, "view": {"stroke": "#262626", "strokeWidth": 3.5, "strokeDash": [163, 189, 352]},
  "layer": [
   {"data": {"name": "pts"}, "transform": [{"filter": "datum.s=='S6' && datum.c=='O'"}],
    "mark": {"type": "point", "filled": false, "stroke": "#0072BD", "strokeWidth": 1.6, "size": 58, "opacity": 1, "clip": true},
    "encoding": {
     "x": {"field": "x", "type": "quantitative", "scale": {"domain": [0, 1]}, "axis": null},
     "y": {"field": "t", "type": "quantitative", "scale": {"domain": [0, 600], "nice": false}, "axis": {"orient": "left", "values": [0, 200, 400, 600, 370], "domain": false, "ticks": true, "tickSize": -6, "tickWidth": 2.5, "tickColor": "#262626", "tickOpacity": {"condition": {"test": "datum.value == 370", "value": 0}, "value": 1}, "labelOverlap": false, "labelFontSize": 25, "labelPadding": 22, "labelColor": {"condition": {"test": "datum.value == 370", "value": "#FF0000"}, "value": "#262626"}, "labelOffset": {"condition": {"test": "datum.value == 370", "value": 20}, "value": 0}, "title": "(z = 2.7, p < 0.01)", "titleFontSize": 27, "titleFontWeight": "normal", "titleColor": "#FF0000", "titleX": -92, "titleY": 90, "titleAngle": -90, "titleBaseline": "middle", "titleAlign": "center"}}
    }},
   {"data": {"name": "med"}, "transform": [{"filter": "datum.s=='S6' && datum.c=='O'"}],
    "mark": {"type": "rule", "color": "#FF0000", "strokeWidth": 5},
    "encoding": {"y": {"field": "m", "type": "quantitative", "scale": {"domain": [0, 600], "nice": false}, "axis": {"orient": "left", "values": [0, 200, 400, 600, 370], "domain": false, "ticks": true, "tickSize": -6, "tickWidth": 2.5, "tickColor": "#262626", "tickOpacity": {"condition": {"test": "datum.value == 370", "value": 0}, "value": 1}, "labelOverlap": false, "labelFontSize": 25, "labelPadding": 22, "labelColor": {"condition": {"test": "datum.value == 370", "value": "#FF0000"}, "value": "#262626"}, "labelOffset": {"condition": {"test": "datum.value == 370", "value": 20}, "value": 0}, "title": "(z = 2.7, p < 0.01)", "titleFontSize": 27, "titleFontWeight": "normal", "titleColor": "#FF0000", "titleX": -92, "titleY": 90, "titleAngle": -90, "titleBaseline": "middle", "titleAlign": "center"}}}}
  ]
 }
]
}
